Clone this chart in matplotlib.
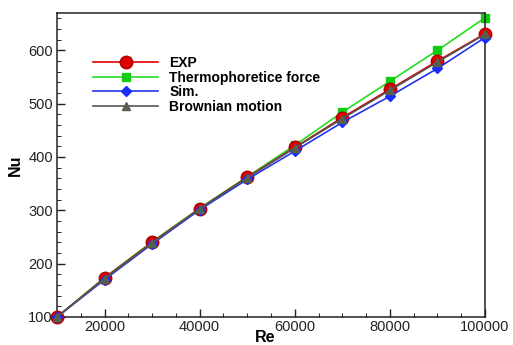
import matplotlib
matplotlib.use("Agg")
import matplotlib.pyplot as plt
from matplotlib.ticker import MultipleLocator

plt.rcParams['font.family'] = ['Liberation Sans', 'DejaVu Sans']

re_vals = [10000, 20000, 30000, 40000, 50000, 60000, 70000, 80000, 90000, 100000]
nu_exp = [100, 173, 240, 303, 362, 418, 474, 527, 580, 631]
nu_thermo = [100, 174, 241, 304, 363, 422, 484, 542, 600, 661]
nu_sim = [100, 170, 237, 301, 358, 411, 465, 514, 566, 624]
nu_brown = [100, 172, 239, 303, 361, 417, 472, 525, 578, 630]

fig = plt.figure(figsize=(5.13, 3.45), dpi=100)
ax = fig.add_axes([57 / 513, 28 / 345, 428 / 513, 304 / 345])

ax.plot(re_vals, nu_exp, color='#e00000', lw=1.2, marker='o', ms=9,
        mfc='#e00000', mec='#b00000', label='EXP', zorder=3, clip_on=False)
ax.plot(re_vals, nu_thermo, color='#22dd22', lw=1.2, marker='s', ms=6,
        mfc='#11cc11', mec='#11cc11', label='Thermophoretice force', zorder=2,
        clip_on=False)
ax.plot(re_vals, nu_sim, color='#2233ee', lw=1.2, marker='D', ms=5.5,
        mfc='#1a2cff', mec='#1a2cff', label='Sim.', zorder=4, clip_on=False)
ax.plot(re_vals, nu_brown, color='#555555', lw=1.2, marker='^', ms=6,
        mfc='#556050', mec='#556050', label='Brownian motion', zorder=5,
        clip_on=False)

ax.set_xlim(10000, 100000)
ax.set_ylim(100, 670)
ax.xaxis.set_major_locator(MultipleLocator(20000))
ax.xaxis.set_minor_locator(MultipleLocator(5000))
ax.yaxis.set_major_locator(MultipleLocator(100))
ax.yaxis.set_minor_locator(MultipleLocator(20))
ax.tick_params(which='both', direction='in', top=False, right=False,
               labelsize=10.5, colors='#222222')
ax.tick_params(axis='x', pad=2)
ax.tick_params(axis='y', pad=3)
ax.tick_params(which='major', length=6, width=1)
ax.tick_params(which='minor', length=3, width=0.7)
for s in ax.spines.values():
    s.set_linewidth(1.1)
    s.set_color('#222222')

ax.set_xlabel('Re', fontsize=11.5, fontweight='bold', va='center')
ax.set_ylabel('Nu', fontsize=11.5, fontweight='bold', va='center')
ax.xaxis.set_label_coords(0.486, -0.066)
ax.yaxis.set_label_coords(-0.098, 0.5)

leg = ax.legend(loc='upper left', bbox_to_anchor=(0.055, 0.9), frameon=False,
                prop={'weight': 'bold', 'size': 10}, handlelength=4.7,
                labelspacing=0.05, handletextpad=0.8)

fig.savefig('out.png', dpi=100)
